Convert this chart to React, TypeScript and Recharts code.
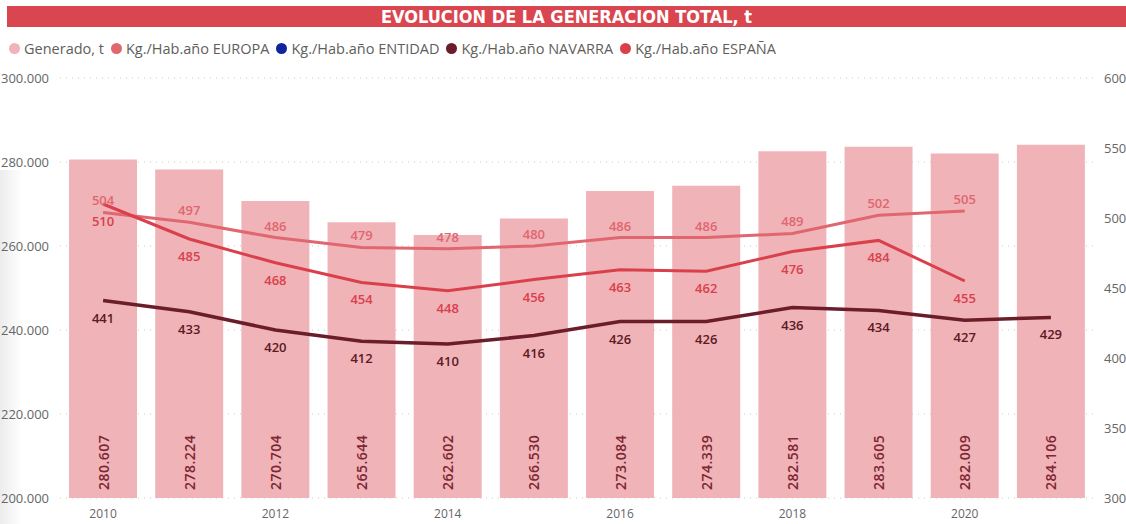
// @ts-nocheck
import { ComposedChart, Bar, Line, XAxis, YAxis, CartesianGrid, LabelList } from "recharts";

const years = ["2010", "2011", "2012", "2013", "2014", "2015", "2016", "2017", "2018", "2019", "2020", "2021"];
const generado = [280607, 278224, 270704, 265644, 262602, 266530, 273084, 274339, 282581, 283605, 282009, 284106];
const europa = [504, 497, 486, 479, 478, 480, 486, 486, 489, 502, 505, null];
const entidad = [null, null, null, null, null, null, null, null, null, null, null, null];
const navarra = [441, 433, 420, 412, 410, 416, 426, 426, 436, 434, 427, 429];
const espana = [510, 485, 468, 454, 448, 456, 463, 462, 476, 484, 455, null];

const leftTicks = [200000, 220000, 240000, 260000, 280000, 300000];
const rightTicks = [300, 350, 400, 450, 500, 550, 600];

const data = years.map((y, i) => ({
  year: y,
  generado: generado[i],
  europa: europa[i],
  entidad: entidad[i],
  navarra: navarra[i],
  espana: espana[i],
}));

const legendItems = [
  { name: "Generado, t", color: "#F0B3B8" },
  { name: "Kg./Hab.año EUROPA", color: "#E0666F" },
  { name: "Kg./Hab.año ENTIDAD", color: "#12239E" },
  { name: "Kg./Hab.año NAVARRA", color: "#6B1D29" },
  { name: "Kg./Hab.año ESPAÑA", color: "#D9404C" },
];

const fmt = (v: number) => v.toLocaleString("de-DE");
const font = "'Segoe UI', 'Open Sans', sans-serif";

const BarLabel = (props: any) => {
  const { x, y, width, height, value } = props;
  const bottom = y + height;
  const cx = x + width / 2;
  return (
    <text
      x={cx}
      y={bottom - 8}
      transform={`rotate(-90 ${cx} ${bottom - 8})`}
      textAnchor="start"
      dominantBaseline="central"
      fill="#7E2632"
      fontSize={14}
      fontWeight={600}
      fontFamily={font}
      letterSpacing={0.5}
    >
      {fmt(value)}
    </text>
  );
};

const lineLabel = (color: string, above: boolean) => (props: any) => {
  const { x, y, value } = props;
  if (value == null) return null;
  return (
    <text
      x={x}
      y={above ? y - 12 : y + 17}
      textAnchor="middle"
      dominantBaseline="central"
      fill={color}
      fontSize={13}
      fontWeight={600}
      fontFamily={font}
    >
      {value}
    </text>
  );
};

export default function App() {
  return (
    <div style={{ position: "fixed", left: 0, top: 0, width: 1126, height: 524, background: "#fff", fontFamily: font }}>
      <div
        style={{
          position: "absolute",
          left: 7,
          right: 0,
          top: 6,
          height: 21,
          background: "#D9464F",
          color: "#fff",
          textAlign: "center",
          fontFamily: "'Liberation Sans Narrow', 'DejaVu Sans Condensed', sans-serif",
          fontWeight: 700,
          fontSize: 18,
          lineHeight: "21px",
        }}
      >
        EVOLUCION DE LA GENERACION TOTAL, t
      </div>
      <div
        style={{
          position: "absolute",
          left: 0,
          top: 170,
          width: 22,
          bottom: 0,
          background: "linear-gradient(to right, #ececec, #ffffff)",
        }}
      />
      <div
        style={{
          position: "absolute",
          left: 9,
          top: 39,
          display: "flex",
          alignItems: "center",
          fontSize: 14.5,
          color: "#605E5C",
        }}
      >
        {legendItems.map((it) => (
          <div key={it.name} style={{ display: "flex", alignItems: "center", marginRight: 7 }}>
            <span
              style={{
                width: 11,
                height: 11,
                borderRadius: "50%",
                background: it.color,
                display: "inline-block",
                marginRight: 4,
              }}
            />
            <span>{it.name}</span>
          </div>
        ))}
      </div>
      <div style={{ position: "absolute", left: 0, top: 0 }}>
        <ComposedChart
          width={1126}
          height={524}
          data={data}
          margin={{ top: 78, right: 0, left: 0, bottom: 0 }}
          barCategoryGap="10.5%"
        >
          <CartesianGrid
            yAxisId="left"
            vertical={false}
            stroke="#c8c8c8"
            strokeDasharray="1 5"
          />
          <XAxis
            dataKey="year"
            interval={1}
            height={26}
            tickLine={false}
            axisLine={false}
            tick={{ fill: "#666", fontSize: 12, fontFamily: font }}
            tickMargin={5}
          />
          <YAxis
            yAxisId="left"
            orientation="left"
            width={60}
            domain={[200000, 300000]}
            ticks={leftTicks}
            allowDataOverflow
            tickFormatter={fmt}
            tickLine={false}
            axisLine={false}
            tickMargin={5}
            tick={{ fill: "#666", fontSize: 13, fontFamily: font }}
          />
          <YAxis
            yAxisId="right"
            orientation="right"
            width={32}
            domain={[300, 600]}
            ticks={rightTicks}
            allowDataOverflow
            tickLine={false}
            axisLine={false}
            tickMargin={4}
            tick={{ fill: "#666", fontSize: 13, fontFamily: font, textAnchor: "start" }}
          />
          <Bar yAxisId="left" dataKey="generado" fill="#F0B3B8" isAnimationActive={false}>
            <LabelList dataKey="generado" content={<BarLabel />} />
          </Bar>
          <Line
            yAxisId="right"
            dataKey="europa"
            stroke="#E0666F"
            strokeWidth={3}
            dot={false}
            type="linear"
            isAnimationActive={false}
          >
            <LabelList dataKey="europa" content={lineLabel("#E0666F", true)} />
          </Line>
          <Line
            yAxisId="right"
            dataKey="entidad"
            stroke="#12239E"
            strokeWidth={3}
            dot={false}
            isAnimationActive={false}
          />
          <Line
            yAxisId="right"
            dataKey="espana"
            stroke="#D9404C"
            strokeWidth={3}
            dot={false}
            type="linear"
            isAnimationActive={false}
          >
            <LabelList dataKey="espana" content={lineLabel("#D9404C", false)} />
          </Line>
          <Line
            yAxisId="right"
            dataKey="navarra"
            stroke="#6B1D29"
            strokeWidth={3.5}
            dot={false}
            type="linear"
            isAnimationActive={false}
          >
            <LabelList dataKey="navarra" content={lineLabel("#5C1A24", false)} />
          </Line>
        </ComposedChart>
      </div>
    </div>
  );
}
